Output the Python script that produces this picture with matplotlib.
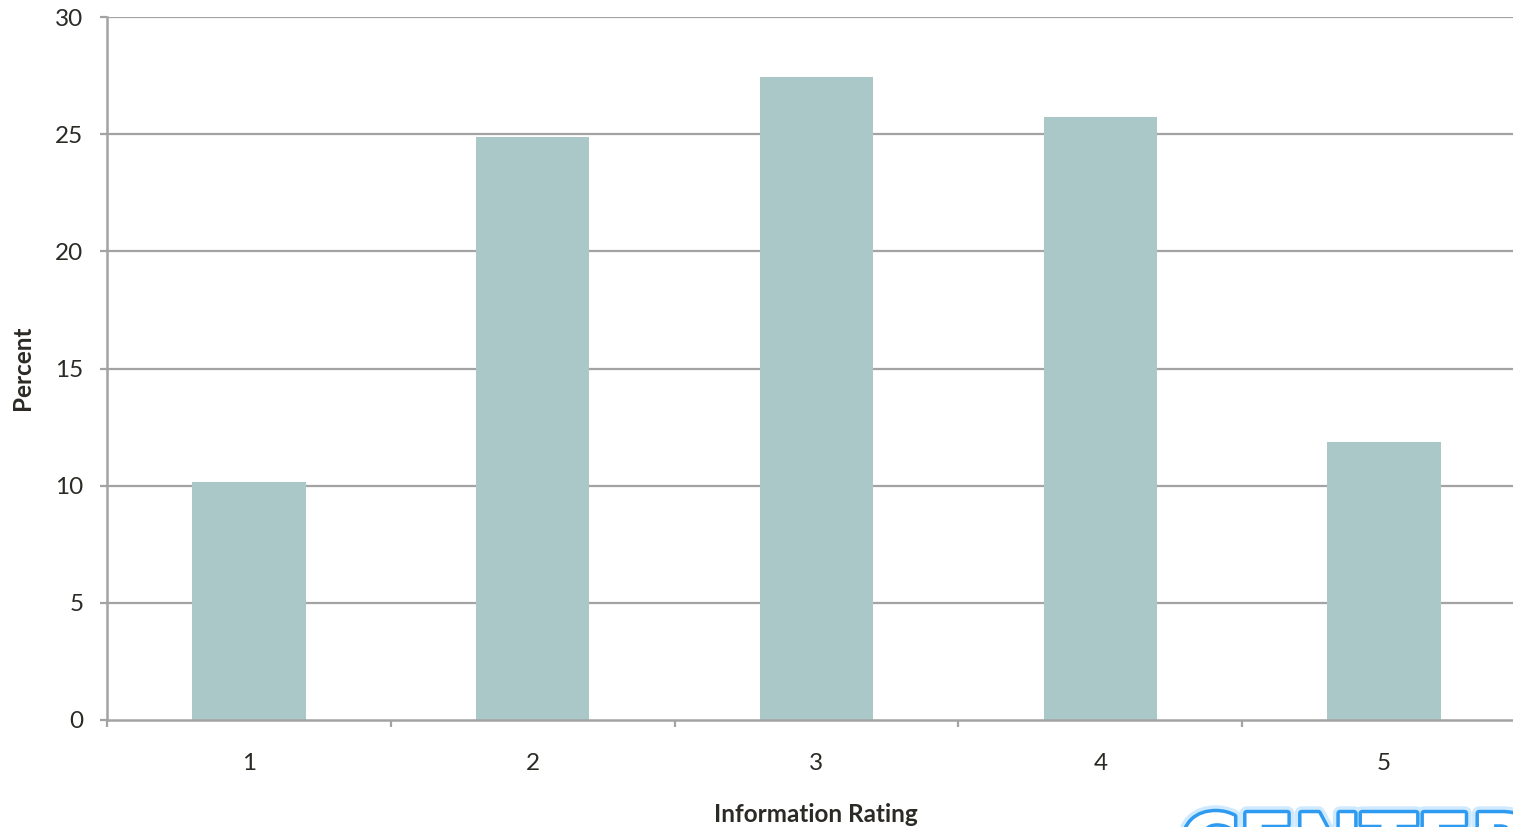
import matplotlib
matplotlib.use("Agg")
import matplotlib.pyplot as plt
import matplotlib.patheffects as pe
import numpy as np

categories = ["1", "2", "3", "4", "5"]
percent = [10.15, 24.9, 27.45, 25.75, 11.85]
y_ticks = [0, 5, 10, 15, 20, 25, 30]

W, H = 1513, 827
fig = plt.figure(figsize=(W / 100, H / 100), dpi=100)
fig.patch.set_facecolor("white")

left, right, top, bottom = 107, 1526, 17, 720
ax = fig.add_axes([left / W, 1 - bottom / H, (right - left) / W, (bottom - top) / H])

grid_c = "#a3a3a3"
text_c = "#2b2a25"
font = "Lato"
fs = 17.5

x = np.arange(len(categories))
ax.bar(x, percent, width=0.4, color="#abc8c9", zorder=3)

ax.set_xlim(-0.5, len(categories) - 0.5)
ax.set_ylim(0, 30)
ax.set_yticks(y_ticks)
ax.set_yticklabels([str(v) for v in y_ticks])
for v in y_ticks[1:]:
    ax.axhline(v, color=grid_c, lw=1.6, zorder=1)

ax.set_xticks(x)
ax.set_xticklabels(categories)
ax.set_xticks(np.arange(-0.5, len(categories) + 0.5, 1), minor=True)

for s in ["top", "right"]:
    ax.spines[s].set_visible(False)
for s in ["left", "bottom"]:
    ax.spines[s].set_color(grid_c)
    ax.spines[s].set_linewidth(1.8)
ax.spines["left"].set_zorder(4)
ax.spines["bottom"].set_zorder(4)

ax.tick_params(axis="y", which="major", length=5, width=1.6, color=grid_c, pad=12,
               labelsize=fs, labelcolor=text_c)
ax.tick_params(axis="x", which="major", length=0, pad=24, labelsize=fs, labelcolor=text_c)
ax.tick_params(axis="x", which="minor", length=5, width=1.6, color=grid_c)
for lab in ax.get_xticklabels() + ax.get_yticklabels():
    lab.set_fontfamily(font)

fig.text(23 / W, 1 - 368 / H, "Percent", rotation=90, ha="center", va="center",
         fontsize=fs, fontweight="bold", color=text_c, family=font)
fig.text(816 / W, 1 - 814 / H, "Information Rating", ha="center", va="center",
         fontsize=fs, fontweight="bold", color=text_c, family=font)

# partially visible logo watermark at bottom right
wm = fig.text(1180 / W, 1 - 872 / H, "CENTER", ha="left", va="baseline",
              fontsize=58, fontweight="bold", color="white", family="DejaVu Sans")
wm.set_path_effects([pe.Stroke(linewidth=10, foreground="#cfeaff"),
                     pe.Stroke(linewidth=5, foreground="#2f9bf0"),
                     pe.Normal()])

fig.savefig("out.png", dpi=100)
